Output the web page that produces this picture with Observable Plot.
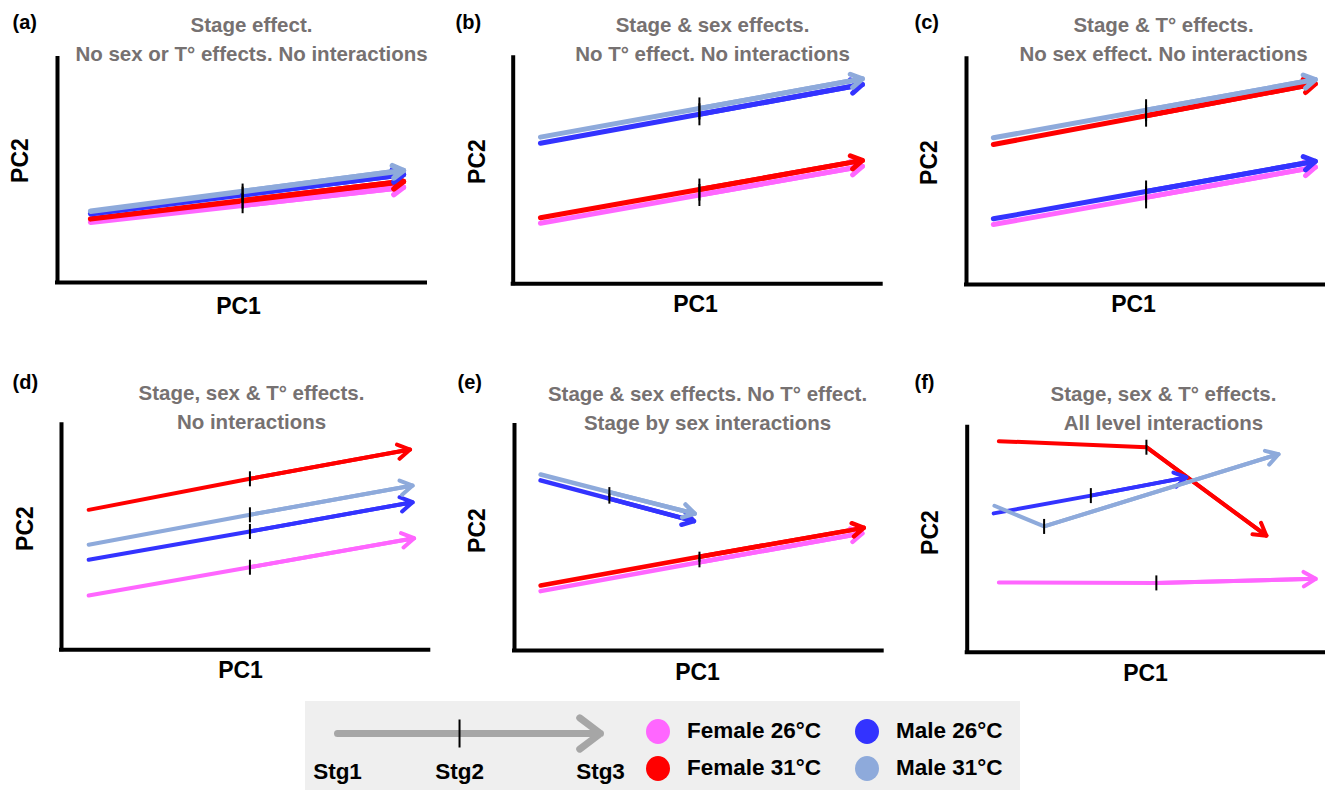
<!DOCTYPE html>
<html>
<head>
<meta charset="utf-8">
<script src="https://cdn.jsdelivr.net/npm/d3@7"></script>
<script src="https://cdn.jsdelivr.net/npm/@observablehq/plot@0.6"></script>
<style>
  html, body { margin: 0; padding: 0; background: #ffffff; overflow: hidden; }
  #root { position: relative; width: 1325px; height: 790px; overflow: hidden; background: #fff; }
  .panel { position: absolute; }
  .panel svg, #legend svg { overflow: visible; background: transparent; max-width: none !important; }
  #legend { position: absolute; left: 305px; top: 701px; width: 715px; height: 89px; background: #efefef; }
  .lg-item { position: absolute; display: flex; align-items: center; height: 28px;
             font-family: "Liberation Sans", Arial, sans-serif; font-weight: bold; font-size: 22.5px; color: #000; }
  .lg-dot { width: 24px; height: 25px; border-radius: 50%; margin-right: 17px; flex: none; }
</style>
</head>
<body>
<div id="root"></div>
<script>
// ---------------- data ----------------
const groups = ["Female 26°C", "Female 31°C", "Male 26°C", "Male 31°C"];
const groupColors = ["#ff66ff", "#ff0000", "#3333ff", "#8eaadb"];
const stages = ["Stg1", "Stg2", "Stg3"];
const panelTags = ["(a)", "(b)", "(c)", "(d)", "(e)", "(f)"];
const panelTitles = [
  "Stage effect.\nNo sex or T° effects. No interactions",
  "Stage & sex effects.\nNo T° effect. No interactions",
  "Stage & T° effects.\nNo sex effect. No interactions",
  "Stage, sex & T° effects.\nNo interactions",
  "Stage & sex effects. No T° effect.\nStage by sex interactions",
  "Stage, sex & T° effects.\nAll level interactions"
];
const xLabel = "PC1";
const yLabel = "PC2";

// PC1 / PC2 at Stg1, Stg2, Stg3 — rows follow the order of `groups`
const a_pc1 = [[9.0, 50.3, 94.0], [9.0, 50.3, 94.0], [9.0, 50.3, 94.0], [9.0, 50.3, 94.0]];
const a_pc2 = [[26.9, 34.5, 42.5], [28.4, 36.5, 45.1], [30.7, 39.2, 48.2], [31.8, 40.6, 50.0]];

const b_pc1 = [[7.4, 50.6, 94.9], [7.4, 50.6, 94.9], [7.4, 50.6, 94.9], [7.4, 50.6, 94.9]];
const b_pc2 = [[26.8, 39.3, 52.0], [29.2, 41.7, 54.6], [62.2, 75.0, 88.2], [64.9, 77.6, 90.7]];

const c_pc1 = [[7.3, 48.8, 94.8], [7.3, 48.8, 94.8], [7.3, 48.8, 94.8], [7.3, 48.8, 94.8]];
const c_pc2 = [[26.6, 38.6, 52.0], [62.0, 74.8, 88.9], [29.1, 41.2, 54.6], [65.0, 77.2, 90.8]];

const d_pc1 = [[7.4, 51.3, 96.0], [7.4, 51.3, 94.9], [7.4, 51.3, 95.6], [7.4, 51.3, 95.6]];
const d_pc2 = [[24.1, 36.7, 49.6], [62.2, 76.0, 89.0], [40.0, 52.6, 65.6], [46.7, 60.0, 73.0]];

const e_pc1 = [[7.1, 50.3, 94.6], [7.1, 50.3, 95.0], [7.1, 25.8, 48.8], [7.1, 25.8, 49.0]];
const e_pc2 = [[26.4, 39.2, 52.1], [28.9, 41.7, 54.5], [75.6, 67.5, 57.5], [78.2, 70.4, 60.8]];

const f_pc1 = [[8.6, 51.4, 94.7], [8.6, 48.7, 81.3], [7.2, 33.6, 59.6], [7.4, 20.9, 84.6]];
const f_pc2 = [[31.0, 30.8, 32.6], [93.8, 91.1, 51.8], [61.7, 69.6, 77.7], [65.1, 55.9, 88.0]];

const legendStagePos = [0, 0.464, 1];

// ---------------- layout (pixels) ----------------
const panelData = [[a_pc1, a_pc2], [b_pc1, b_pc2], [c_pc1, c_pc2], [d_pc1, d_pc2], [e_pc1, e_pc2], [f_pc1, f_pc2]];
const layout = [
  {left: 0,   top: 0,   width: 440, height: 330, ml: 57,   mt: 58,   mr: 15,  mb: 48,   sw: 5.5, wing: 12, tick: 16, tag: [12, 22],  title: [251, 37],  xl: [238, 306],  yl: [20, 160]},
  {left: 440, top: 0,   width: 450, height: 330, ml: 72.7, mt: 57.3, mr: 9.3, mb: 46.7, sw: 5,   wing: 13, tick: 22, tag: [455, 22], title: [712, 37],  xl: [695, 304],  yl: [477, 161]},
  {left: 890, top: 0,   width: 450, height: 330, ml: 76,   mt: 58.3, mr: 6,   mb: 46,   sw: 5,   wing: 13, tick: 22, tag: [914, 22], title: [1163, 37], xl: [1133, 304], yl: [929, 162]},
  {left: 0,   top: 330, width: 440, height: 360, ml: 61,   mt: 94.3, mr: 11.7, mb: 40.7, sw: 4,  wing: 14, tick: 15, tag: [12, 382], title: [251, 405],   xl: [240, 670],  yl: [25, 528]},
  {left: 440, top: 330, width: 450, height: 360, ml: 74,   mt: 95,   mr: 8.3, mb: 40,   sw: 4.5, wing: 13, tick: 10, tag: [457, 382], title: [707, 405.5], xl: [697, 672], yl: [477, 530]},
  {left: 890, top: 330, width: 450, height: 360, ml: 76.7, mt: 96.7, mr: 5.3, mb: 38.3, sw: 4,   wing: 14, tick: 15, tag: [914, 382], title: [1163, 405.5], xl: [1145, 673], yl: [930, 532]}
];

const titleFont = '"Liberation Sans", Arial, sans-serif';
const labelFont = '"Liberation Sans", Arial, sans-serif';

// vertical bar symbol for the Stg2 marks
const vbar = {
  draw(ctx, size) {
    const r = Math.sqrt(size / Math.PI);
    ctx.moveTo(0, -r);
    ctx.lineTo(0, r);
  }
};

const root = document.getElementById("root");

function rowsOf(pc1, pc2) {
  const rows = [];
  groups.forEach((g, gi) => stages.forEach((s, si) =>
    rows.push({group: g, stage: s, pc1: pc1[gi][si], pc2: pc2[gi][si]})));
  return rows;
}
function lastSegments(pc1, pc2) {
  return groups.map((g, gi) => ({group: g, x1: pc1[gi][1], y1: pc2[gi][1], x2: pc1[gi][2], y2: pc2[gi][2]}));
}

panelData.forEach(([pc1, pc2], p) => {
  const L = layout[p];
  const rows = rowsOf(pc1, pc2);
  const segs = lastSegments(pc1, pc2);
  const mids = rows.filter(d => d.stage === "Stg2");
  const off = ([ax, ay]) => ({dx: ax - L.left - L.ml, dy: ay - L.top - L.mt});
  const plot = Plot.plot({
    width: L.width,
    height: L.height,
    marginLeft: L.ml, marginTop: L.mt, marginRight: L.mr, marginBottom: L.mb,
    x: {domain: [0, 100], axis: null},
    y: {domain: [0, 100], axis: null},
    color: {domain: groups, range: groupColors},
    marks: [
      Plot.ruleX([0], {stroke: "#000", strokeWidth: 4, strokeLinecap: "square"}),
      Plot.ruleY([0], {stroke: "#000", strokeWidth: 4, strokeLinecap: "square"}),
      Plot.line(rows, {x: "pc1", y: "pc2", z: "group", stroke: "group", strokeWidth: L.sw, strokeLinejoin: "round"}),
      Plot.arrow(segs, {x1: "x1", y1: "y1", x2: "x2", y2: "y2", stroke: "group", strokeWidth: L.sw,
        headLength: L.wing * 1.5 / L.sw, headAngle: 62}),
      Plot.dot(mids, {x: "pc1", y: "pc2", symbol: vbar, r: L.tick / 2, fill: "none", stroke: "#000", strokeWidth: 2}),
      Plot.text([panelTags[p]], {frameAnchor: "top-left", ...off(L.tag), textAnchor: "start", lineAnchor: "middle",
        fontFamily: titleFont, fontWeight: "bold", fontSize: 20, fill: "#000"}),
      Plot.text([panelTitles[p]], {frameAnchor: "top-left", ...off(L.title), textAnchor: "middle", lineAnchor: "middle",
        lineHeight: 1.42, fontFamily: titleFont, fontWeight: "bold", fontSize: 20.5, fill: "#767171"}),
      Plot.text([xLabel], {frameAnchor: "top-left", ...off(L.xl), textAnchor: "middle", lineAnchor: "middle",
        fontFamily: labelFont, fontWeight: "bold", fontSize: 23, fill: "#000"}),
      Plot.text([yLabel], {frameAnchor: "top-left", ...off(L.yl), textAnchor: "middle", lineAnchor: "middle", rotate: -90,
        fontFamily: labelFont, fontWeight: "bold", fontSize: 23, fill: "#000"})
    ]
  });
  const holder = document.createElement("div");
  holder.className = "panel";
  holder.style.left = L.left + "px";
  holder.style.top = L.top + "px";
  holder.style.width = L.width + "px";
  holder.style.height = L.height + "px";
  holder.appendChild(plot);
  root.appendChild(holder);
});

// ---------------- legend ----------------
const legend = document.createElement("div");
legend.id = "legend";
root.appendChild(legend);

const stagePlot = Plot.plot({
  width: 330, height: 89,
  marginLeft: 32, marginRight: 35, marginTop: 32, marginBottom: 19,
  x: {domain: [0, 1], axis: null},
  y: {domain: [0, 1], axis: null},
  marks: [
    Plot.arrow([{x1: legendStagePos[0], x2: legendStagePos[2]}], {x1: "x1", x2: "x2", y1: 1, y2: 1,
      stroke: "#a6a6a6", strokeWidth: 7, headLength: 26 * 1.5 / 7, headAngle: 74}),
    Plot.dot([legendStagePos[1]], {x: d => d, y: 1, symbol: vbar, r: 14, fill: "none", stroke: "#000", strokeWidth: 2}),
    Plot.text(stages, {x: (d, i) => legendStagePos[i], y: 0, textAnchor: "middle", lineAnchor: "middle",
      fontFamily: titleFont, fontWeight: "bold", fontSize: 22.5, fill: "#000"})
  ]
});
stagePlot.style.position = "absolute";
stagePlot.style.left = "0px";
stagePlot.style.top = "0px";
stagePlot.style.background = "transparent";
legend.appendChild(stagePlot);

groups.forEach((g, i) => {
  const col = Math.floor(i / 2), row = i % 2;
  const item = document.createElement("div");
  item.className = "lg-item";
  item.style.left = (341 + col * 209) + "px";
  item.style.top = (16 + row * 37) + "px";
  const dot = document.createElement("span");
  dot.className = "lg-dot";
  dot.style.background = groupColors[i];
  const label = document.createElement("span");
  label.textContent = g;
  item.appendChild(dot);
  item.appendChild(label);
  legend.appendChild(item);
});
</script>
</body>
</html>
